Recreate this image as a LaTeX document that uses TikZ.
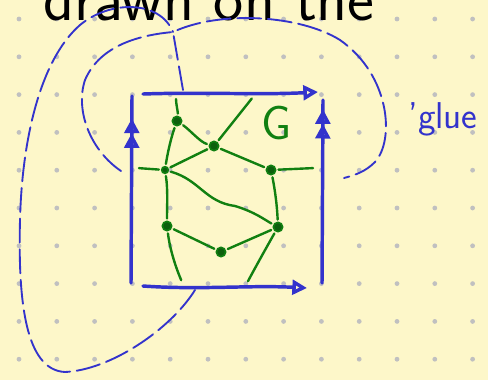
\documentclass[tikz,border=0pt]{standalone}
\usepackage{tikz}
\usetikzlibrary{arrows.meta,decorations.markings}
\definecolor{paper}{RGB}{253,247,201}
\definecolor{ink}{RGB}{51,51,204}
\definecolor{graphgreen}{RGB}{17,128,17}
\definecolor{griddot}{RGB}{192,192,192}

\begin{document}
\begin{tikzpicture}[
  x=0.75pt, y=-0.75pt,
  >={Triangle[open, length=11pt, width=11pt]},
  side/.style={ink, line width=2.6pt, line cap=round},
  midtips/.style={postaction={decorate, decoration={markings, mark=at position #1 with {\arrow{>>}}}}},
  glue/.style={ink, line width=1.4pt, line cap=round, dash pattern=on 18pt off 5pt},
  vtx/.style={circle, draw=graphgreen, line width=1.2pt, fill=graphgreen!75!black, inner sep=0pt, minimum size=7pt},
  edge/.style={graphgreen, line width=1.8pt, line cap=round, shorten >=1.5pt, shorten <=1.5pt}
]
  % Paper and dot grid
  \useasboundingbox (0,0) rectangle (488,380);
  \clip (0,0) rectangle (488,380);
  \fill[paper] (0,0) rectangle (488,380);
  \foreach \i in {0,...,12}
    \foreach \j in {0,...,9}
      \fill[griddot] (19+37.8*\i, 19+37.8*\j) circle[radius=1.8pt];

  % Heading, cut off at the top
  \node[anchor=base west, inner sep=0pt, font=\fontsize{48}{48}\selectfont\sffamily] (title) at (43,20) {drawn on the};

  % Square with its edge identifications
  \draw[side, midtips=0.88] (131,283) -- (132,96);
  \draw[side, midtips=0.95] (322,283) -- (323,100);
  \draw[side, ->] (143,94) .. controls (200,92) and (260,95) .. (318,92);
  \draw[side, ->] (143,286) .. controls (200,290) and (250,285) .. (307,288);

  % Gluing points
  \coordinate (junction) at (173,32);
  \coordinate (topedge) at (183,90);
  \coordinate (botedge) at (195,290);
  \coordinate (leftend) at (121,171);
  \coordinate (rightend) at (344,178);

  % Glue top to bottom
  \draw[glue] (topedge) -- (junction);
  \draw[glue] (botedge) .. controls (170,330) and (110,370) .. (65,372)
    .. controls (25,370) and (18,300) .. (20,220)
    .. controls (22,140) and (40,60) .. (80,25)
    .. controls (110,0) and (160,0) .. (junction);

  % Glue left to right
  \draw[glue] (leftend) .. controls (90,150) and (75,110) .. (85,80)
    .. controls (100,45) and (140,35) .. (junction)
    .. controls (220,10) and (300,15) .. (340,40)
    .. controls (390,75) and (395,140) .. (375,162)
    .. controls (365,172) and (355,175) .. (rightend);

  \node[text=ink, anchor=base west, inner sep=0pt, font=\fontsize{28}{28}\selectfont\sffamily] (gluelabel) at (408,128) {'glue};

  % Graph G
  \node[vtx] (A) at (177,121) {};
  \node[vtx] (B) at (214,146) {};
  \node[vtx, minimum size=5pt] (C) at (165,170) {};
  \node[vtx] (D) at (271,170) {};
  \node[vtx] (E) at (167,226) {};
  \node[vtx] (F) at (278,227) {};
  \node[vtx] (H) at (221,252) {};
  \node[text=graphgreen, font=\fontsize{36}{36}\selectfont\sffamily] (glabel) at (277,123) {G};

  % Half edges reaching the square
  \coordinate (tA) at (176,97);
  \coordinate (tB) at (253,97);
  \coordinate (lC) at (137,168);
  \coordinate (rD) at (315,168);
  \coordinate (bE) at (182,282);
  \coordinate (bF) at (247,283);

  \draw[edge] (A) .. controls (178,112) and (176,104) .. (tA);
  \draw[edge] (A) .. controls (190,130) and (200,142) .. (B);
  \draw[edge] (A) .. controls (172,135) and (168,150) .. (C);
  \draw[edge] (C) -- (B);
  \draw[edge] (B) -- (tB);
  \draw[edge] (C) -- (lC);
  \draw[edge] (D) -- (rD);
  \draw[edge] (B) -- (D);
  \draw[edge] (C) .. controls (200,180) and (205,202) .. (235,206)
    .. controls (255,212) and (265,220) .. (F);
  \draw[edge] (C) .. controls (168,190) and (167,205) .. (E);
  \draw[edge] (D) .. controls (275,190) and (277,205) .. (F);
  \draw[edge] (E) -- (H);
  \draw[edge] (H) -- (F);
  \draw[edge] (E) .. controls (170,250) and (176,268) .. (bE);
  \draw[edge] (F) .. controls (265,250) and (255,268) .. (bF);
\end{tikzpicture}
\end{document}
